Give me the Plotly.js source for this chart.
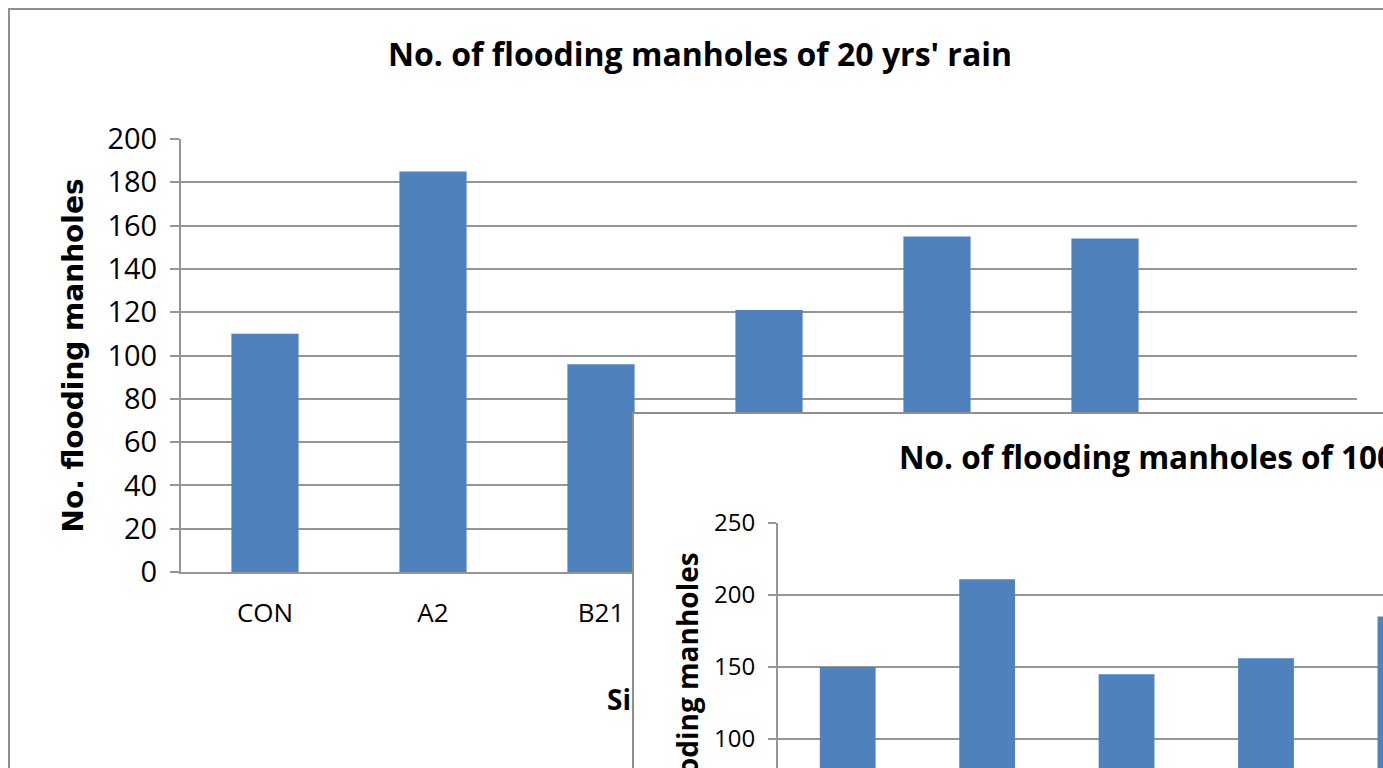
<!DOCTYPE html>
<html>
<head>
<meta charset="utf-8">
<script src="https://cdn.plot.ly/plotly-3.0.1.min.js"></script>
<style>
  html, body { margin: 0; padding: 0; overflow: hidden; background: #fff; width: 1383px; height: 768px; }
  .chart-box { position: absolute; border: 2px solid #8f8f8f; background: #fff; }
  #rain20 { left: 8px; top: 8px; }
  #rain100 { left: 632px; top: 412px; }
</style>
</head>
<body>
<div id="rain20" class="chart-box"></div>
<div id="rain100" class="chart-box"></div>
<script>
// Scenario categories shared by both charts
const scenarios = ['CON', 'A2', 'B21', 'B22', 'A1B', 'B1', 'A1T'];

// Number of flooding manholes per scenario
const flooding20yr = [110, 185, 96, 121, 155, 154, null];
const flooding100yr = [150, 211, 145, 156, 185, null, null];

// Value-axis ticks
const ticks20 = [0, 20, 40, 60, 80, 100, 120, 140, 160, 180, 200];
const ticks100 = [0, 50, 100, 150, 200, 250];

const titles = {
  main20: "No. of flooding manholes of 20 yrs' rain",
  main100: "No. of flooding manholes of 100 yrs' rain",
  yAxis: 'No. flooding manholes',
  xAxis: 'Simulation scenarios'
};

const BAR_BLUE = '#4f81bd';
const GRID = '#959595';
const BODY_FONT = 'Open Sans, Liberation Sans, sans-serif';

const config = { staticPlot: true, displayModeBar: false };

// ---- 20-year rain chart ----
(function () {
  const W = 1380, H = 780;
  const m = { l: 171, r: 33, t: 129, b: 217.5 };
  const plotW = W - m.l - m.r, plotH = H - m.t - m.b;

  const trace = {
    type: 'bar',
    x: scenarios,
    y: flooding20yr,
    marker: { color: BAR_BLUE, line: { width: 0 } },
    hoverinfo: 'skip'
  };

  const layout = {
    width: W, height: H,
    margin: m,
    paper_bgcolor: '#fff', plot_bgcolor: '#fff',
    bargap: 0.6,
    showlegend: false,
    font: { family: BODY_FONT, color: '#000' },
    title: {
      text: titles.main20,
      font: { family: BODY_FONT, size: 32, weight: 'bold', color: '#000' },
      xref: 'container', yref: 'container',
      x: 0.5, xanchor: 'center',
      y: 1 - 45 / H, yanchor: 'middle'
    },
    xaxis: {
      type: 'category',
      range: [-0.5, scenarios.length - 0.5],
      showline: true, linecolor: GRID, linewidth: 2,
      ticks: '', showgrid: false, zeroline: false,
      tickfont: { family: BODY_FONT, size: 26, color: '#000' },
      ticklabelstandoff: 17,
      automargin: false
    },
    yaxis: {
      range: [0, 200],
      tickmode: 'array', tickvals: ticks20,
      showline: true, linecolor: GRID, linewidth: 2,
      ticks: 'outside', ticklen: 9, tickwidth: 2, tickcolor: GRID,
      showgrid: true, gridcolor: GRID, gridwidth: 2,
      zeroline: false,
      tickfont: { family: BODY_FONT, size: 29, color: '#000' },
      ticklabelstandoff: 7,
      automargin: false,
      title: {
        text: titles.yAxis,
        font: { family: 'DejaVu Sans, sans-serif', size: 28, weight: 'bold', color: '#000' },
        standoff: 16
      }
    },
    annotations: [{
      text: titles.xAxis,
      xref: 'paper', yref: 'paper',
      x: (595 - m.l) / plotW, xanchor: 'left',
      y: (plotH - (690 - m.t)) / plotH, yanchor: 'middle',
      showarrow: false,
      font: { family: BODY_FONT, size: 28, weight: 'bold', color: '#000' }
    }]
  };

  Plotly.newPlot('rain20', [trace], layout, config);
})();

// ---- 100-year rain chart ----
(function () {
  const W = 1150, H = 680;
  const m = { l: 144, r: 29.5, t: 109, b: 211 };
  const plotW = W - m.l - m.r, plotH = H - m.t - m.b;

  const trace = {
    type: 'bar',
    x: scenarios,
    y: flooding100yr,
    marker: { color: BAR_BLUE, line: { width: 0 } },
    hoverinfo: 'skip'
  };

  const layout = {
    width: W, height: H,
    margin: m,
    paper_bgcolor: '#fff', plot_bgcolor: '#fff',
    bargap: 0.6,
    showlegend: false,
    font: { family: BODY_FONT, color: '#000' },
    title: {
      text: titles.main100,
      font: { family: BODY_FONT, size: 31.5, weight: 'bold', color: '#000' },
      xref: 'container', yref: 'container',
      x: (899 - 634) / W, xanchor: 'left',
      y: 1 - 44 / H, yanchor: 'middle'
    },
    xaxis: {
      type: 'category',
      range: [-0.5, scenarios.length - 0.5],
      showline: true, linecolor: GRID, linewidth: 2,
      ticks: '', showgrid: false, zeroline: false,
      showticklabels: false,
      automargin: false
    },
    yaxis: {
      range: [0, 250],
      tickmode: 'array', tickvals: ticks100,
      showline: true, linecolor: GRID, linewidth: 2,
      ticks: 'outside', ticklen: 8, tickwidth: 2, tickcolor: GRID,
      showgrid: true, gridcolor: GRID, gridwidth: 2,
      zeroline: false,
      tickfont: { family: BODY_FONT, size: 24, color: '#000' },
      ticklabelstandoff: 8,
      automargin: false
    },
    annotations: [{
      // value-axis title, set beside the tick labels
      text: titles.yAxis,
      textangle: -90,
      xref: 'paper', yref: 'paper',
      x: (53 - m.l) / plotW, xanchor: 'center',
      y: (plotH - (296 - m.t)) / plotH, yanchor: 'middle',
      showarrow: false,
      font: { family: BODY_FONT, size: 28, weight: 'bold', color: '#000' }
    }]
  };

  Plotly.newPlot('rain100', [trace], layout, config);
})();
</script>
</body>
</html>
